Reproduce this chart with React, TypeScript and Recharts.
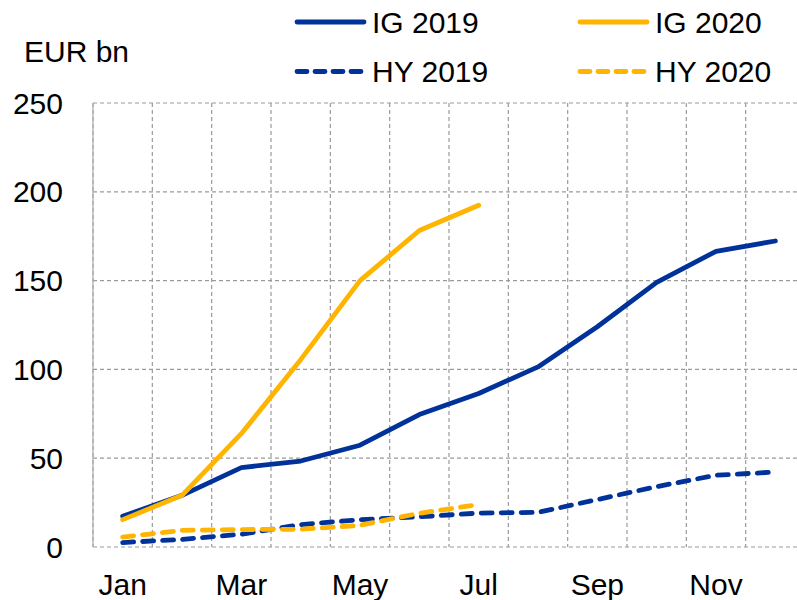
import React from 'react';
import { LineChart, Line, XAxis, YAxis, CartesianGrid, Legend, Label } from 'recharts';

const months = ['Jan', 'Feb', 'Mar', 'Apr', 'May', 'Jun', 'Jul', 'Aug', 'Sep', 'Oct', 'Nov', 'Dec'];
const labelMonths = ['Jan', 'Mar', 'May', 'Jul', 'Sep', 'Nov'];
const ig2019 = [17.3, 29.1, 44.7, 48.4, 57.3, 74.6, 86.4, 101.4, 124, 149, 166.5, 172.3];
const ig2020 = [15.4, 29.1, 63.8, 105.5, 150, 178.2, 192.4];
const hy2019 = [2.5, 4.3, 7.2, 12.6, 15.4, 17, 19.1, 19.5, 26.7, 34, 40.4, 42.2];
const hy2020 = [5.6, 9.4, 9.8, 10, 12.2, 19, 23.9];
const yTicks = [0, 50, 100, 150, 200, 250];

const BLUE = '#003299';
const YELLOW = '#FFB400';
const FONT = '"Liberation Sans", Arial, sans-serif';
const DASH = '11 9';

const series = [
  { key: 'ig2019', name: 'IG 2019', color: BLUE, dashed: false },
  { key: 'ig2020', name: 'IG 2020', color: YELLOW, dashed: false },
  { key: 'hy2019', name: 'HY 2019', color: BLUE, dashed: true },
  { key: 'hy2020', name: 'HY 2020', color: YELLOW, dashed: true },
];

const data = months.map((m, i) => ({
  pos: i + 0.5,
  month: m,
  ig2019: ig2019[i] ?? null,
  ig2020: ig2020[i] ?? null,
  hy2019: hy2019[i] ?? null,
  hy2020: hy2020[i] ?? null,
}));

const gridTicks = [...months.map((_, i) => i), months.length];
const labelTicks = labelMonths.map((m) => months.indexOf(m) + 0.5);

const legendCols = [295, 578];
const legendRows = [22, 71.5];

const LegendContent = () => (
  <svg width={797} height={100} style={{ display: 'block' }}>
    {series.map((s, i) => {
      const x = legendCols[i % 2];
      const y = legendRows[Math.floor(i / 2)];
      return (
        <g key={s.key}>
          <line
            x1={x + 2}
            x2={x + 69}
            y1={y}
            y2={y}
            stroke={s.color}
            strokeWidth={4.8}
            strokeLinecap="round"
            strokeDasharray={s.dashed ? '10 8' : undefined}
          />
          <text x={x + 77} y={y} dy="0.355em" fontSize={30} fontFamily={FONT} fill="#000">
            {s.name}
          </text>
        </g>
      );
    })}
  </svg>
);

const UnitLabel = (props: any) => {
  const vb = props.viewBox || { x: 0, y: 103 };
  return (
    <text x={vb.x + 24} y={vb.y - 41} fontSize={30} fontFamily={FONT} fill="#000">
      EUR bn
    </text>
  );
};

const EmptyTick = () => <g />;

export default function App() {
  return (
    <div
      style={{
        position: 'absolute',
        left: 0,
        top: 0,
        width: 797,
        height: 600,
        overflow: 'hidden',
        background: '#fff',
      }}
    >
      <LineChart width={805} height={600} data={data} margin={{ top: 103, right: 0, bottom: 0, left: 0 }}>
        <CartesianGrid
          xAxisId="grid"
          stroke="#9a9a9a"
          strokeDasharray="4 3"
          strokeWidth={1.2}
        />
        <XAxis
          xAxisId="grid"
          dataKey="pos"
          type="number"
          domain={[0, 12]}
          ticks={gridTicks}
          interval={0}
          tick={EmptyTick}
          height={0}
          tickSize={9}
          axisLine={{ stroke: '#555', strokeWidth: 1.5 }}
          tickLine={{ stroke: '#333', strokeWidth: 1.2 }}
        />
        <XAxis
          xAxisId="lab"
          dataKey="pos"
          type="number"
          domain={[0, 12]}
          ticks={labelTicks}
          interval={0}
          height={53}
          axisLine={false}
          tickLine={false}
          tickSize={0}
          tickMargin={27}
          tickFormatter={(v: number) => months[Math.floor(v)]}
          tick={{ fontSize: 30, fontFamily: FONT, fill: '#000' }}
        />
        <YAxis
          domain={[0, 250]}
          ticks={yTicks}
          interval={0}
          width={93}
          tickSize={0}
          tickMargin={30}
          tickLine={false}
          axisLine={{ stroke: '#b0b0b0', strokeWidth: 1.3 }}
          tick={{ fontSize: 30, fontFamily: FONT, fill: '#000' }}
        >
          <Label content={UnitLabel} />
        </YAxis>
        <Legend
          layout="horizontal"
          verticalAlign="middle"
          align="center"
          content={LegendContent}
          wrapperStyle={{ position: 'absolute', top: 0, left: 0, width: 797, height: 100 }}
        />
        {series.map((s) => (
          <Line
            key={s.key}
            xAxisId="grid"
            type="linear"
            dataKey={s.key}
            name={s.name}
            stroke={s.color}
            strokeWidth={4.8}
            strokeLinecap="round"
            strokeLinejoin="round"
            strokeDasharray={s.dashed ? DASH : undefined}
            dot={false}
            activeDot={false}
            isAnimationActive={false}
          />
        ))}
      </LineChart>
    </div>
  );
}
